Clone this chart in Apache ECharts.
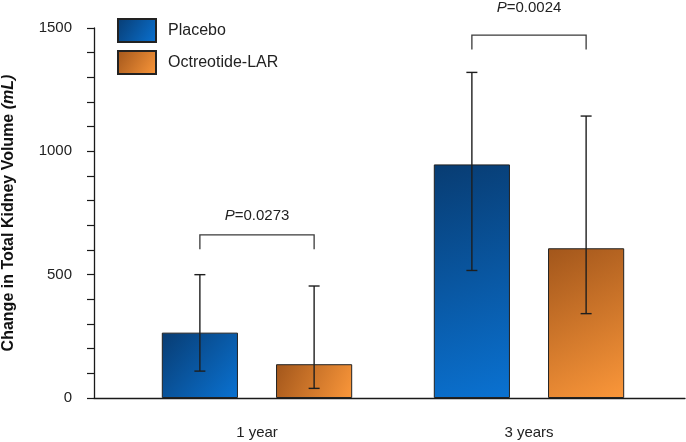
<!DOCTYPE html>
<html>
<head>
<meta charset="utf-8">
<script src="https://cdn.jsdelivr.net/npm/echarts@6/dist/echarts.min.js"></script>
<style>html,body{margin:0;padding:0;background:#fff;}#c{width:686px;height:442px;}</style>
</head>
<body>
<div id="c"></div>
<script>
var categories = ['1 year', '3 years'];
var seriesNames = ['Placebo', 'Octreotide-LAR'];
var placeboValues = [265, 947];
var placeboLow = [109, 517];
var placeboHigh = [500, 1320];
var octreotideValues = [137, 607];
var octreotideLow = [39, 342];
var octreotideHigh = [454, 1143];
var pValues = ['0.0273', '0.0024'];
var bracketTop = [661, 1471];
var bracketLeg = [603, 1413];
var pLabelLevel = [738, 1581];
var yMax = 1500;
var yMajorStep = 500;
var yMinorStep = 100;

var FONT = '"Liberation Sans", Arial, Helvetica, sans-serif';
var chart = echarts.init(document.getElementById('c'), null, {renderer: 'canvas'});

function grad(c0, c1) {
  return new echarts.graphic.LinearGradient(0, 0, 1, 1, [
    {offset: 0, color: c0}, {offset: 1, color: c1}
  ]);
}
var BAR_W = 0.28, GAP = 0.5;
var OFF = BAR_W * (1 + GAP) / 2;

function errItem(sign) {
  return function (params, api) {
    var ci = api.value(0);
    var band = api.size([1, 0])[0];
    var x = api.coord([ci, 0])[0] + sign * band * OFF;
    var yl = api.coord([ci, api.value(1)])[1];
    var yh = api.coord([ci, api.value(2)])[1];
    var cap = 5.5;
    var st = {stroke: '#1e1e1e', lineWidth: 1.4};
    return {type: 'group', children: [
      {type: 'line', shape: {x1: x, y1: yl, x2: x, y2: yh}, style: st},
      {type: 'line', shape: {x1: x - cap, y1: yh, x2: x + cap, y2: yh}, style: st},
      {type: 'line', shape: {x1: x - cap, y1: yl, x2: x + cap, y2: yl}, style: st}
    ]};
  };
}

function bracketItem(params, api) {
  var ci = api.value(0);
  var band = api.size([1, 0])[0];
  var xc = api.coord([ci, 0])[0];
  var xl = xc - band * OFF, xr = xc + band * OFF;
  var yt = api.coord([ci, api.value(1)])[1];
  var yb = api.coord([ci, api.value(2)])[1];
  var yLab = api.coord([ci, api.value(3)])[1];
  return {type: 'group', children: [
    {type: 'polyline', shape: {points: [[xl, yb], [xl, yt], [xr, yt], [xr, yb]]},
     style: {stroke: '#3a3a3a', lineWidth: 1.3, fill: null}},
    {type: 'text', x: xc, y: yLab, style: {
      text: '{i|P}{n|=' + pValues[params.dataIndex] + '}',
      align: 'center', verticalAlign: 'middle',
      rich: {
        i: {fontStyle: 'italic', fontSize: 15, fontFamily: FONT, fill: '#222'},
        n: {fontSize: 15, fontFamily: FONT, fill: '#222'}
      }
    }}
  ]};
}

var option = {
  animation: false,
  backgroundColor: '#fff',
  grid: [
    {left: 121, right: 21, top: 28, bottom: 44, outerBoundsMode: 'none', containLabel: false},
    {left: 94, right: 1, top: 28, bottom: 44, outerBoundsMode: 'none', containLabel: false}
  ],
  legend: {
    data: seriesNames,
    orient: 'vertical', left: 112, top: 13,
    icon: 'rect',
    itemWidth: 38, itemHeight: 23, itemGap: 7,
    textStyle: {fontFamily: FONT, fontSize: 16, color: '#222', padding: [0, 0, 0, 7]},
    selectedMode: false
  },
  xAxis: [
    {type: 'category', gridIndex: 0, data: categories,
     axisLine: {show: false}, axisTick: {show: false},
     axisLabel: {margin: 27, fontFamily: FONT, fontSize: 15, color: '#222'}},
    {type: 'value', gridIndex: 1, min: 0, max: 1,
     axisLine: {show: true, lineStyle: {color: '#1a1a1a', width: 1.3}},
     axisTick: {show: false}, axisLabel: {show: false}, splitLine: {show: false}}
  ],
  yAxis: [
    {type: 'value', gridIndex: 0, min: 0, max: yMax, interval: yMinorStep, offset: 27,
     name: '{b|Change in Total Kidney Volume }{bi|(mL)}',
     nameLocation: 'middle', nameGap: 77, nameRotate: 90,
     nameTextStyle: {rich: {
       b: {fontFamily: FONT, fontWeight: 'bold', fontSize: 16, color: '#111'},
       bi: {fontFamily: FONT, fontWeight: 'bold', fontStyle: 'italic', fontSize: 16, color: '#111'}
     }},
     axisLine: {show: true, lineStyle: {color: '#1a1a1a', width: 1.3}},
     axisTick: {show: true, length: 7, lineStyle: {color: '#1a1a1a', width: 1.2}},
     axisLabel: {margin: 22, fontFamily: FONT, fontSize: 15, color: '#222',
       formatter: function (v) { return v % yMajorStep === 0 ? String(v) : ''; }},
     splitLine: {show: false}},
    {type: 'value', gridIndex: 1, show: false}
  ],
  series: [
    {name: seriesNames[0], type: 'bar', data: placeboValues, barWidth: (BAR_W * 100) + '%', barGap: (GAP * 100) + '%',
     itemStyle: {color: grad('#083c72', '#0a72d2'), borderColor: '#222', borderWidth: 1}},
    {name: seriesNames[1], type: 'bar', data: octreotideValues, barWidth: (BAR_W * 100) + '%',
     itemStyle: {color: grad('#a2561b', '#fb973a'), borderColor: '#222', borderWidth: 1}},
    {type: 'custom', renderItem: errItem(-1), z: 5,
     data: categories.map(function (c, i) { return [i, placeboLow[i], placeboHigh[i]]; })},
    {type: 'custom', renderItem: errItem(1), z: 5,
     data: categories.map(function (c, i) { return [i, octreotideLow[i], octreotideHigh[i]]; })},
    {type: 'custom', renderItem: bracketItem, clip: false, z: 5,
     data: categories.map(function (c, i) { return [i, bracketTop[i], bracketLeg[i], pLabelLevel[i]]; })}
  ]
};
chart.setOption(option);
</script>
</body>
</html>
